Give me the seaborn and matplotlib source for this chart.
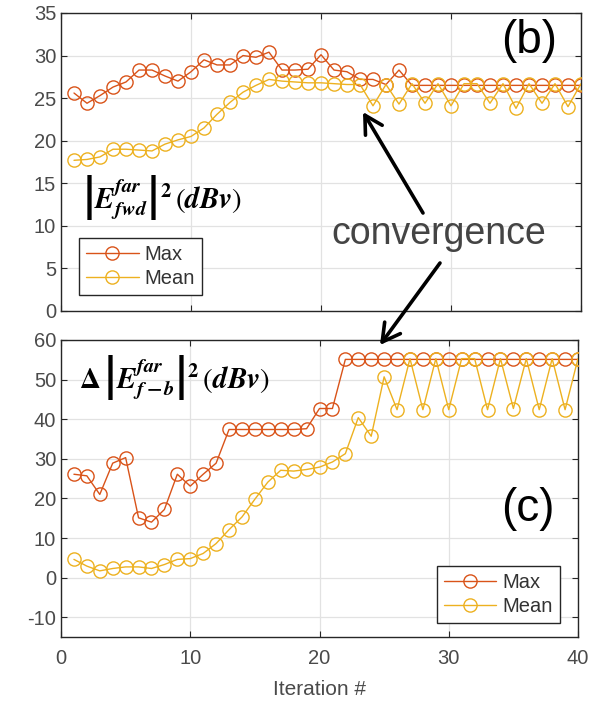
import matplotlib
matplotlib.use("Agg")
import matplotlib.pyplot as plt
import seaborn as sns
import pandas as pd
import numpy as np

iterations = list(range(1, 41))

# (b) |E_fwd^far|^2 (dBv)
b_max = [25.6, 24.4, 25.3, 26.3, 26.9, 28.3, 28.3, 27.6, 27.0, 28.1,
         29.5, 28.9, 28.9, 30.0, 29.8, 30.4, 28.3, 28.3, 28.4, 30.1,
         28.3, 28.1, 27.2, 27.2, 26.6, 28.3, 26.5, 26.5, 26.5, 26.5,
         26.5, 26.5, 26.5, 26.5, 26.5, 26.5, 26.5, 26.5, 26.5, 26.5]
b_mean = [17.7, 17.8, 18.1, 19.0, 19.0, 18.9, 18.8, 19.6, 20.1, 20.5,
          21.5, 23.1, 24.5, 25.7, 26.5, 27.2, 27.0, 26.9, 26.8, 26.8,
          26.7, 26.6, 26.6, 24.1, 26.6, 24.3, 26.7, 24.4, 26.7, 24.1,
          26.7, 26.7, 24.4, 26.7, 23.8, 26.7, 24.4, 26.7, 24.0, 26.7]

# (c) Delta |E_f-b^far|^2 (dBv)
c_max = [26.1, 25.7, 21.0, 28.9, 30.3, 15.1, 14.0, 17.2, 26.1, 23.1,
         26.1, 28.9, 37.4, 37.4, 37.4, 37.4, 37.4, 37.4, 37.6, 42.7,
         42.7, 55.1, 55.1, 55.1, 55.1, 55.1, 55.1, 55.1, 55.1, 55.1,
         55.1, 55.1, 55.1, 55.1, 55.1, 55.1, 55.1, 55.1, 55.1, 55.1]
c_mean = [4.6, 2.9, 1.7, 2.3, 2.7, 2.7, 2.3, 3.3, 4.6, 4.8,
          6.1, 8.6, 12.1, 15.3, 19.8, 24.1, 27.1, 26.9, 27.3, 27.9,
          29.2, 31.3, 40.4, 35.7, 50.7, 42.4, 55.3, 42.4, 55.3, 42.4,
          55.3, 55.3, 42.4, 55.3, 42.7, 55.3, 42.4, 55.3, 42.4, 55.3]

series_names = ["Max", "Mean"]
colors = {"Max": "#D95319", "Mean": "#EDB120"}

sns.set_theme(style="whitegrid")
plt.rcParams["font.family"] = ["Liberation Sans", "DejaVu Sans"]
plt.rcParams["mathtext.fontset"] = "stix"
plt.rcParams["axes.unicode_minus"] = False

fig = plt.figure(figsize=(5.91, 7.04), dpi=100)
W, H = 591, 704
ax1 = fig.add_axes([61 / W, 1 - 311 / H, (581 - 61) / W, (311 - 13) / H])
ax2 = fig.add_axes([61 / W, 1 - 637 / H, (578 - 61) / W, (637 - 340) / H])

tick_color = "#4a4a4a"

def draw(ax, ymax, ymean):
    df = pd.DataFrame({"Iteration": iterations * 2,
                       "value": ymax + ymean,
                       "series": ["Max"] * len(iterations) + ["Mean"] * len(iterations)})
    for name in series_names:
        sub = df[df["series"] == name]
        sns.lineplot(data=sub, x="Iteration", y="value", ax=ax, color=colors[name],
                     marker="o", markersize=9.5, markerfacecolor="none",
                     markeredgecolor=colors[name], markeredgewidth=1.0,
                     linewidth=1.0, label=name, zorder=3)
    ax.set_xlim(0, 40)
    ax.set_xticks([0, 10, 20, 30, 40])
    ax.grid(True, color="#e2e2e2", linewidth=0.9)
    ax.set_facecolor("white")
    for s in ax.spines.values():
        s.set_color("#262626")
        s.set_linewidth(1.0)
    ax.tick_params(direction="in", length=4, width=0.8, color="#262626",
                   labelsize=14.5, labelcolor=tick_color, top=True, right=True,
                   bottom=True, left=True)
    ax.set_ylabel("")

draw(ax1, b_max, b_mean)
ax1.set_ylim(0, 35)
ax1.set_yticks(list(range(0, 36, 5)))
ax1.tick_params(labelbottom=False)
ax1.set_xlabel("")

draw(ax2, c_max, c_mean)
ax2.set_ylim(-15, 60)
ax2.set_yticks(list(range(-10, 61, 10)))
ax2.set_xlabel("Iteration #", fontsize=15, color=tick_color, labelpad=8)
ax2.tick_params(axis="x", pad=9)

leg_kw = dict(fontsize=14.5, frameon=True, fancybox=False, edgecolor="#262626",
              framealpha=1, handlelength=2.6, borderpad=0.35, labelspacing=0.25,
              handletextpad=0.3, borderaxespad=0.0)
l1 = ax1.legend(loc="lower left", bbox_to_anchor=(0.035, 0.054), **leg_kw)
l2 = ax2.legend(loc="lower right", bbox_to_anchor=(0.965, 0.047), **leg_kw)
for leg in (l1, l2):
    leg.get_frame().set_linewidth(1.0)
    for t in leg.get_texts():
        t.set_color("#333333")

ax1.text(0.04, 0.38,
         r"$\left|\boldsymbol{E}^{\boldsymbol{far}}_{\boldsymbol{fwd}}\right|^{\mathbf{2}}\,(\boldsymbol{dBv})$",
         transform=ax1.transAxes, fontsize=21, color="black", va="center", ha="left")
ax2.text(0.035, 0.875,
         r"$\mathbf{\Delta}\,\left|\boldsymbol{E}^{\boldsymbol{far}}_{\boldsymbol{f-b}}\right|^{\mathbf{2}}\,(\boldsymbol{dBv})$",
         transform=ax2.transAxes, fontsize=21, color="black", va="center", ha="left")

ax1.text(0.955, 0.905, "(b)", transform=ax1.transAxes, fontsize=33, ha="right",
         va="center", color="black")
ax2.text(0.955, 0.43, "(c)", transform=ax2.transAxes, fontsize=33, ha="right",
         va="center", color="black")

fig.text(439 / W, 1 - 234 / H, "convergence", fontsize=27, color="#444444",
         ha="center", va="center")

arrow_kw = dict(arrowstyle="->,head_length=0.9,head_width=0.5", color="black", lw=2.6,
                shrinkA=0, shrinkB=0)
fig.add_artist(matplotlib.patches.FancyArrowPatch(
    (423 / W, 1 - 213 / H), (363 / W, 1 - 112 / H), transform=fig.transFigure,
    mutation_scale=14, **arrow_kw))
fig.add_artist(matplotlib.patches.FancyArrowPatch(
    (440 / W, 1 - 263 / H), (380 / W, 1 - 345 / H), transform=fig.transFigure,
    mutation_scale=14, **arrow_kw))

fig.savefig("out.png", dpi=100, facecolor="white")
